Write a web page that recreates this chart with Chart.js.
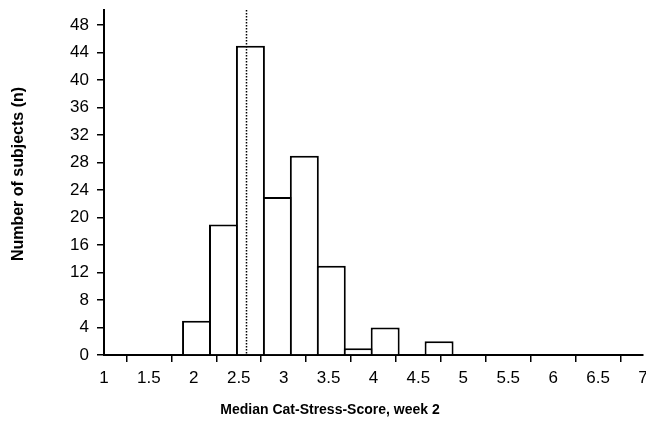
<!DOCTYPE html>
<html>
<head>
<meta charset="utf-8">
<script src="https://cdn.jsdelivr.net/npm/chart.js@4.4.0/dist/chart.umd.min.js"></script>
<style>
  html, body { margin: 0; padding: 0; background: #fff; }
  #wrap { width: 646px; height: 439px; }
</style>
</head>
<body>
<div id="wrap"><canvas id="histo"></canvas></div>
<script>
// bin centres (score) and counts
const binCenters = [2.03, 2.33, 2.63, 2.93, 3.23, 3.53, 3.83, 4.13, 4.43, 4.73];
const counts = [5, 19, 45, 23, 29, 13, 1, 4, null, 2];
const yTicks = [0, 4, 8, 12, 16, 20, 24, 28, 32, 36, 40, 44, 48];
const medianLine = 2.58;
const xTitle = "Median Cat-Stress-Score, week 2";
const yTitle = "Number of subjects (n)";

const FONT = "'Liberation Sans', Arial, Helvetica, sans-serif";

// dotted median line + axis titles
const extras = {
  id: "extras",
  afterDatasetsDraw(chart) {
    const { ctx, chartArea, scales } = chart;
    const x = Math.round(scales.x.getPixelForValue(medianLine)) + 0.5;
    ctx.save();
    ctx.strokeStyle = "#000";
    ctx.lineWidth = 1.5;
    ctx.setLineDash([1.5, 1.5]);
    ctx.beginPath();
    ctx.moveTo(x, chartArea.top);
    ctx.lineTo(x, chartArea.bottom);
    ctx.stroke();
    ctx.restore();
  },
  afterDraw(chart) {
    const { ctx } = chart;
    ctx.save();
    ctx.fillStyle = "#000";
    ctx.textAlign = "center";
    ctx.textBaseline = "middle";
    ctx.font = "bold 14px " + FONT;
    ctx.fillText(xTitle, 330, 410);
    ctx.font = "bold 16px " + FONT;
    ctx.translate(19, 174);
    ctx.rotate(-Math.PI / 2);
    ctx.fillText(yTitle, 0, 0);
    ctx.restore();
  },
};

new Chart(document.getElementById("histo"), {
  type: "bar",
  data: {
    datasets: [
      {
        data: binCenters.map((c, i) => ({ x: c, y: counts[i] })),
        backgroundColor: "#fff",
        borderColor: "#000",
        borderWidth: 2,
        borderSkipped: "start",
        barPercentage: 1.075,
        categoryPercentage: 1,
      },
    ],
  },
  options: {
    responsive: true,
    maintainAspectRatio: false,
    animation: false,
    layout: { padding: { top: 10, right: 3, left: 0, bottom: 0 } },
    plugins: { legend: { display: false }, tooltip: { enabled: false } },
    scales: {
      x: {
        type: "linear",
        min: 1,
        max: 7,
        offset: false,
        afterFit: (s) => {
          s.height = 84;
          s.paddingLeft = 0;
          s.paddingRight = 0;
        },
        ticks: {
          stepSize: 0.5,
          color: "#000",
          padding: 6,
          maxRotation: 0,
          autoSkip: false,
          font: { family: FONT, size: 17 },
          callback: (v) => String(v),
        },
        grid: {
          drawOnChartArea: false,
          drawTicks: true,
          tickLength: 7,
          color: "#000",
          lineWidth: 1.5,
        },
        border: { display: true, color: "#000", width: 2 },
      },
      y: {
        min: 0,
        max: 50.2,
        afterFit: (s) => {
          s.width = 104;
          s.paddingTop = 0;
          s.paddingBottom = 0;
        },
        afterBuildTicks: (s) => { s.ticks = yTicks.map((v) => ({ value: v })); },
        ticks: {
          color: "#000",
          padding: 8,
          font: { family: FONT, size: 17 },
        },
        grid: {
          drawOnChartArea: false,
          drawTicks: true,
          tickLength: 7,
          color: "#000",
          lineWidth: 1.5,
        },
        border: { display: true, color: "#000", width: 2 },
      },
    },
  },
  plugins: [extras],
});
</script>
</body>
</html>
